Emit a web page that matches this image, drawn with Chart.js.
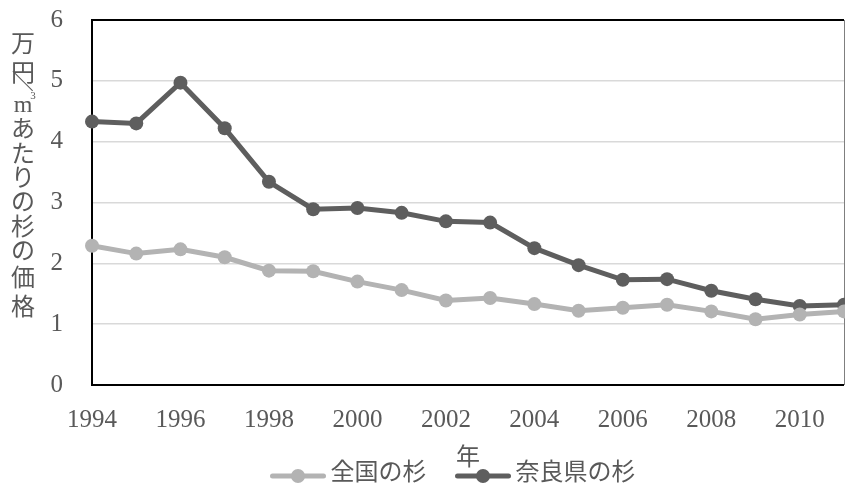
<!DOCTYPE html>
<html lang="ja">
<head>
<meta charset="utf-8">
<title>杉の価格の推移</title>
<script src="https://cdn.jsdelivr.net/npm/chart.js@4.4.1/dist/chart.umd.min.js"></script>
<style>
  html, body { margin: 0; padding: 0; background: #ffffff; }
  #wrap { width: 845px; height: 484px; position: relative; }
</style>
</head>
<body>
<div id="wrap"><canvas id="chart" width="845" height="484"></canvas></div>
<script>
// 年
const years = ['1994','1995','1996','1997','1998','1999','2000','2001','2002',
               '2003','2004','2005','2006','2007','2008','2009','2010','2011'];
// 全国の杉（万円/m³）
const national = [2.29, 2.16, 2.23, 2.10, 1.88, 1.87, 1.70, 1.56, 1.39,
                  1.43, 1.33, 1.22, 1.27, 1.32, 1.21, 1.08, 1.16, 1.21];
// 奈良県の杉（万円/m³）
const nara = [4.33, 4.30, 4.97, 4.22, 3.34, 2.89, 2.91, 2.83, 2.69,
              2.67, 2.25, 1.97, 1.73, 1.74, 1.55, 1.41, 1.30, 1.32];
const yTicks = [0, 1, 2, 3, 4, 5, 6];
const seriesNames = ['全国の杉', '奈良県の杉'];
const xTitle = '年';
const yTitleChars = ['万', '円', '／', 'm³', 'あ', 'た', 'り', 'の', '杉', 'の', '価', '格'];

const TEXT = '#595959';
const LIGHT = '#b3b3b3';
const DARK = '#5e5e5e';
const NUM_FONT = '"Liberation Serif", "DejaVu Serif", serif';
const JP_FONT = '"Noto Sans CJK JP", "Noto Sans", sans-serif';

// Frame around the plot area: black on three sides, thin grey on the right
const framePlugin = {
  id: 'frame',
  beforeDatasetsDraw(chart) {
    const { ctx, chartArea: a } = chart;
    ctx.save();
    ctx.strokeStyle = '#000000';
    ctx.lineWidth = 2;
    ctx.beginPath();
    ctx.moveTo(a.right, a.top);
    ctx.lineTo(a.left, a.top);
    ctx.lineTo(a.left, a.bottom);
    ctx.lineTo(a.right, a.bottom);
    ctx.stroke();
    ctx.strokeStyle = '#7f7f7f';
    ctx.lineWidth = 1;
    ctx.beginPath();
    ctx.moveTo(a.right + 0.5, a.top);
    ctx.lineTo(a.right + 0.5, a.bottom);
    ctx.stroke();
    ctx.restore();
  }
};

// Vertical axis title, legend and x-axis title
const labelsPlugin = {
  id: 'labels',
  afterDraw(chart) {
    const { ctx, chartArea: a } = chart;
    ctx.save();
    ctx.fillStyle = TEXT;
    ctx.textAlign = 'center';
    ctx.textBaseline = 'middle';

    // y-axis title written top to bottom
    const advances = [29, 9, 23, 24, 25, 24, 24, 25, 24, 27, 29, 0];
    let y = 43;
    yTitleChars.forEach((ch, i) => {
      if (ch === '／') {
        ctx.save();
        ctx.translate(23, y);
        ctx.rotate(Math.PI / 2);
        ctx.font = '22px ' + JP_FONT;
        ctx.fillText(ch, 0, 0);
        ctx.restore();
      } else if (ch === 'm³') {
        ctx.font = '24px ' + NUM_FONT;
        ctx.fillText('m', 23, y + 2);
        ctx.font = '11px ' + NUM_FONT;
        ctx.fillText('3', 33, y - 8);
      } else {
        ctx.font = '24px ' + JP_FONT;
        ctx.fillText(ch, 23, y);
      }
      y += advances[i];
    });

    // x-axis title
    ctx.font = '24px ' + JP_FONT;
    ctx.fillText(xTitle, (a.left + a.right) / 2, 456);

    // legend
    const lineLen = 55, gap = 5, itemGap = 29;
    ctx.font = '24px ' + JP_FONT;
    const widths = chart.data.datasets.map(d => lineLen + gap + ctx.measureText(d.label).width);
    const total = widths.reduce((s, w) => s + w, 0) + itemGap * (widths.length - 1);
    let x = 453 - total / 2;
    const ly = 476;
    chart.data.datasets.forEach((d, i) => {
      ctx.strokeStyle = d.borderColor;
      ctx.lineWidth = 5;
      ctx.lineCap = 'round';
      ctx.beginPath();
      ctx.moveTo(x + 2, ly);
      ctx.lineTo(x + lineLen - 2, ly);
      ctx.stroke();
      ctx.fillStyle = d.borderColor;
      ctx.beginPath();
      ctx.arc(x + lineLen / 2, ly, 7, 0, Math.PI * 2);
      ctx.fill();
      ctx.fillStyle = TEXT;
      ctx.textAlign = 'left';
      ctx.fillText(d.label, x + lineLen + gap, 471);
      x += widths[i] + itemGap;
    });
    ctx.restore();
  }
};

new Chart(document.getElementById('chart'), {
  type: 'line',
  data: {
    labels: years,
    datasets: [
      {
        label: seriesNames[0],
        data: national,
        borderColor: LIGHT,
        backgroundColor: LIGHT,
        borderWidth: 5,
        pointRadius: 7,
        pointHoverRadius: 7,
        pointBorderWidth: 0,
        tension: 0
      },
      {
        label: seriesNames[1],
        data: nara,
        borderColor: DARK,
        backgroundColor: DARK,
        borderWidth: 5,
        pointRadius: 7,
        pointHoverRadius: 7,
        pointBorderWidth: 0,
        tension: 0
      }
    ]
  },
  options: {
    responsive: false,
    animation: false,
    devicePixelRatio: 1,
    layout: { autoPadding: false, padding: { top: 20, right: 1, bottom: 0, left: 0 } },
    plugins: {
      legend: { display: false },
      tooltip: { enabled: false }
    },
    scales: {
      x: {
        type: 'category',
        offset: false,
        grid: { display: false, drawTicks: false },
        border: { display: false },
        ticks: {
          autoSkip: false,
          maxRotation: 0,
          padding: 20,
          color: TEXT,
          font: { family: NUM_FONT, size: 25 },
          callback(value, index) {
            return index % 2 === 0 ? this.getLabelForValue(value) : '';
          }
        },
        afterFit(scale) {
          scale.height = 99;
          scale.paddingLeft = 0;
          scale.paddingRight = 0;
        }
      },
      y: {
        min: yTicks[0],
        max: yTicks[yTicks.length - 1],
        grid: { color: '#d9d9d9', lineWidth: 1.5, drawTicks: false },
        border: { display: false },
        afterBuildTicks(scale) { scale.ticks = yTicks.map(v => ({ value: v })); },
        ticks: {
          padding: 29,
          color: TEXT,
          font: { family: NUM_FONT, size: 25 }
        },
        afterFit(scale) {
          scale.width = 92;
          scale.paddingTop = 0;
          scale.paddingBottom = 0;
        }
      }
    }
  },
  plugins: [framePlugin, labelsPlugin]
});
</script>
</body>
</html>
